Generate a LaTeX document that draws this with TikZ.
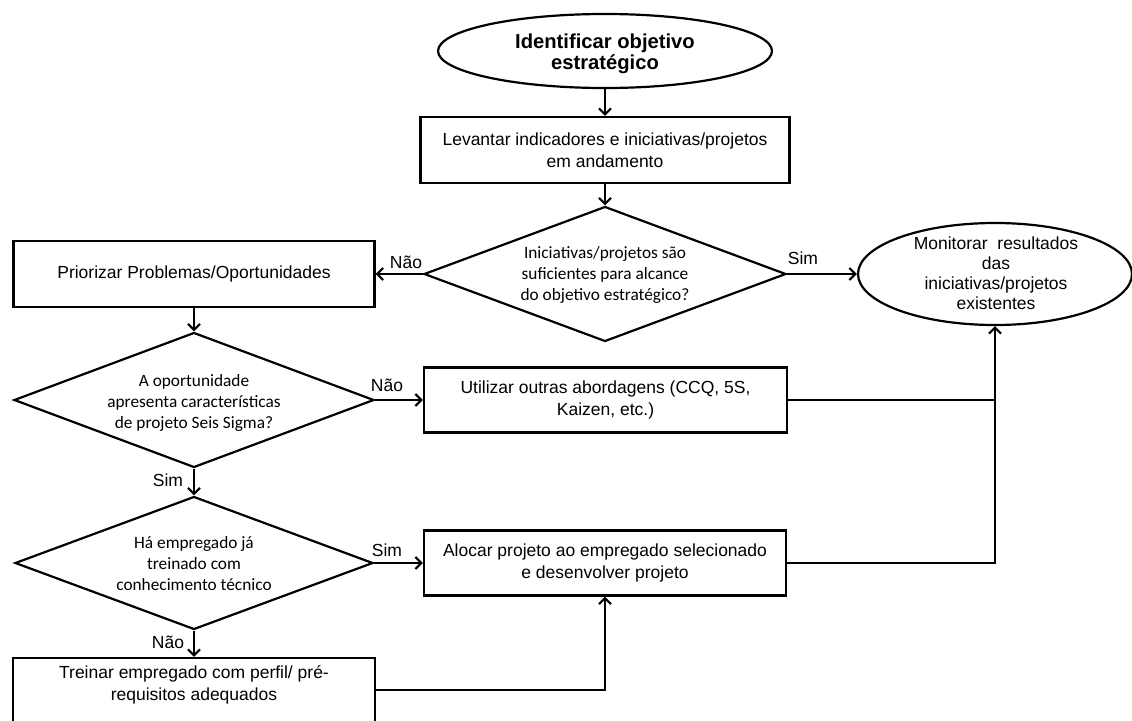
\documentclass[tikz,border=0pt]{standalone}
\usepackage{fontspec}
\setmainfont{Liberation Sans}
\newfontfamily\qfont{Carlito}
\usetikzlibrary{shapes.geometric,arrows.meta}
\begin{document}
\begin{tikzpicture}[x=1pt,y=-1pt,
  line width=2.2pt,
  box/.style={draw, rectangle, inner sep=0pt, align=center,
    font=\fontsize{17.5}{22}\selectfont},
  btext/.style={inner sep=0pt, align=center,
    font=\fontsize{17.5}{22}\selectfont},
  term/.style={draw, ellipse, inner sep=0pt, align=center},
  decision/.style={draw, diamond, inner sep=0pt},
  qtext/.style={inner sep=0pt, align=center,
    font=\qfont\fontsize{17.3}{21}\selectfont},
  lbl/.style={inner sep=0pt, font=\fontsize{17.5}{20}\selectfont},
  arr/.style={-{Straight Barb[length=6pt,width=12pt]}}
]
\useasboundingbox (0,0) rectangle (1132,720);
\clip (0,0) rectangle (1132,720);

% start of the process
\node[term, minimum width=334pt, minimum height=74pt] (start) at (605,51) {};
\node[btext, font=\fontsize{20.2}{21}\selectfont\bfseries] (startT) at (605,54)
  {Identificar objetivo\\estratégico};

\node[box, minimum width=369pt, minimum height=66pt] (survey) at (605,150)
  {Levantar indicadores e iniciativas/projetos\\em andamento};

% first decision
\node[decision, minimum width=362pt, minimum height=135pt] (enough) at (605,274) {};
\node[qtext] (enoughT) at (605,275)
  {Iniciativas/projetos são\\suficientes para alcance\\do objetivo estratégico?};

\node[box, minimum width=361pt, minimum height=66pt] (prior) at (194,274)
  {Priorizar Problemas/Oportunidades};

\node[term, minimum width=274pt, minimum height=102pt] (monitor) at (995,274) {};
\node[btext, font=\fontsize{17.5}{20}\selectfont] (monitorT) at (996,273)
  {Monitorar~ resultados\\das\\iniciativas/projetos\\existentes};

% second decision
\node[decision, minimum width=360pt, minimum height=135pt] (sigma) at (194,400) {};
\node[qtext] (sigmaT) at (194,403)
  {A oportunidade\\apresenta características\\de projeto Seis Sigma?};

\node[box, minimum width=363pt, minimum height=65pt] (other) at (605.5,400)
  {Utilizar outras abordagens (CCQ, 5S,\\Kaizen, etc.)};

% third decision
\node[decision, minimum width=358pt, minimum height=133pt] (staff) at (194,563) {};
\node[qtext] (staffT) at (194,564)
  {Há empregado já\\treinado com\\conhecimento técnico};

\node[box, minimum width=362pt, minimum height=65pt] (alloc) at (605,563)
  {Alocar projeto ao empregado selecionado\\e desenvolver projeto};

\node[box, minimum width=362pt, minimum height=64pt] (train) at (194,690) {};
\node[btext] (trainT) at (194,685)
  {Treinar empregado com perfil/ pré-\\requisitos adequados};

% connectors
\draw[arr] (start.south) -- (survey.north);
\draw[arr] (survey.south) -- (enough.north);
\draw[arr] (enough.west) -- (prior.east);
\draw[arr] (enough.east) -- (monitor.west);
\draw[arr] (prior.south) -- (sigma.north);
\draw[arr] (sigma.east) -- (other.west);
\draw[arr] (sigma.south) -- (staff.north);
\draw[arr] (staff.east) -- (alloc.west);
\draw[arr] (staff.south) -- (train.north);
\draw (other.east) -- (other.east -| monitor.south);
\draw[arr] (alloc.east) -| (monitor.south);
\draw[arr] (train.east) -| (alloc.south);

% branch labels
\node[lbl] (l1) at (406,262) {Não};
\node[lbl] (l2) at (803,258) {Sim};
\node[lbl] (l3) at (387,385) {Não};
\node[lbl] (l4) at (168,480) {Sim};
\node[lbl] (l5) at (387,550) {Sim};
\node[lbl] (l6) at (168,642) {Não};
\end{tikzpicture}
\end{document}
